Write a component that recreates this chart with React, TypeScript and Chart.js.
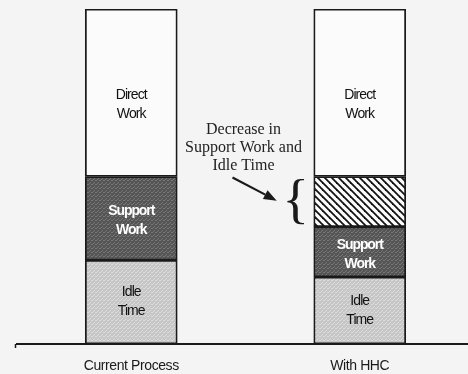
import React, { useEffect, useRef } from "react";
import { Chart, registerables } from "chart.js";

Chart.register(...registerables);

const categories = ["Current Process", "With HHC"];
const idleTime = [25, 20];
const supportWork = [25, 15];
const decrease = [0, 15];
const directWork = [50, 50];

const segmentLabels = [
  { lines: ["Idle", "Time"], color: "#111111", bold: false, dy: 0 },
  { lines: ["Support", "Work"], color: "#ffffff", bold: true, dy: 2.5 },
  null,
  { lines: ["Direct", "Work"], color: "#111111", bold: false, dy: 12 },
];
const annotationLines = ["Decrease in", "Support Work and", "Idle Time"];

function makeStipple(base: string, dot: string): CanvasPattern | string {
  const c = document.createElement("canvas");
  c.width = 4;
  c.height = 4;
  const g = c.getContext("2d");
  if (!g) return base;
  g.fillStyle = base;
  g.fillRect(0, 0, 4, 4);
  g.fillStyle = dot;
  g.fillRect(0, 0, 1, 1);
  g.fillRect(2, 2, 1, 1);
  g.fillRect(3, 0, 1, 1);
  g.fillRect(1, 3, 1, 1);
  const p = g.createPattern(c, "repeat");
  return p || base;
}

function makeHatch(): CanvasPattern | string {
  const s = 7;
  const c = document.createElement("canvas");
  c.width = s;
  c.height = s;
  const g = c.getContext("2d");
  if (!g) return "#fff";
  g.fillStyle = "#fbfbfb";
  g.fillRect(0, 0, s, s);
  g.strokeStyle = "#111";
  g.lineWidth = 1.8;
  for (let k = -1; k <= 1; k++) {
    g.beginPath();
    g.moveTo(k * s - 1, -1);
    g.lineTo(k * s + s + 1, s + 1);
    g.stroke();
  }
  const p = g.createPattern(c, "repeat");
  return p || "#fff";
}

const spacingPlugin = {
  id: "tickSpacing",
  beforeDraw(chart: any) {
    (chart.ctx as any).letterSpacing = "-0.4px";
  },
  afterDraw(chart: any) {
    (chart.ctx as any).letterSpacing = "0px";
  },
};

const labelPlugin = {
  id: "segmentLabels",
  afterDatasetsDraw(chart: any) {
    const ctx = chart.ctx as CanvasRenderingContext2D;
    ctx.save();
    chart.data.datasets.forEach((_ds: any, di: number) => {
      const info = segmentLabels[di];
      if (!info) return;
      const meta = chart.getDatasetMeta(di);
      meta.data.forEach((el: any) => {
        const top = Math.min(el.y, el.base);
        const bot = Math.max(el.y, el.base);
        if (bot - top < 2) return;
        const cy = (top + bot) / 2 + info.dy;
        ctx.font = (info.bold ? "bold " : "") + "14px 'Liberation Sans', Arial, sans-serif";
        (ctx as any).letterSpacing = info.bold ? "-1.1px" : "-0.9px";
        ctx.fillStyle = info.color;
        ctx.textAlign = "center";
        ctx.textBaseline = "middle";
        const lh = 19;
        info.lines.forEach((t, i) => {
          ctx.fillText(t, el.x, cy + (i - (info.lines.length - 1) / 2) * lh);
        });
      });
    });
    ctx.restore();
  },
};

const annotationPlugin = {
  id: "decreaseNote",
  afterDraw(chart: any) {
    const ctx = chart.ctx as CanvasRenderingContext2D;
    const meta = chart.getDatasetMeta(2);
    const el = meta.data[1];
    if (!el) return;
    const segTop = Math.min(el.y, el.base);
    const segBot = Math.max(el.y, el.base);
    const barLeft = el.x - el.width / 2;
    const xs = chart.scales.x;
    const midX = (xs.getPixelForValue(0) + xs.getPixelForValue(1)) / 2 - 2;
    ctx.save();
    (ctx as any).letterSpacing = "0px";
    ctx.font = "16px 'Liberation Serif', 'Times New Roman', serif";
    ctx.fillStyle = "#222";
    ctx.textAlign = "center";
    ctx.textBaseline = "middle";
    annotationLines.forEach((t, i) => {
      ctx.fillText(t, midX, segTop - 47 + i * 18);
    });
    // arrow
    const x0 = midX - 11;
    const y0 = segTop + 1;
    const x1 = barLeft - 37;
    const y1 = (segTop + segBot) / 2 - 1;
    const ang = Math.atan2(y1 - y0, x1 - x0);
    const headLen = 13;
    const headW = 5;
    const bx = x1 - headLen * Math.cos(ang);
    const by = y1 - headLen * Math.sin(ang);
    ctx.strokeStyle = "#1a1a1a";
    ctx.lineWidth = 2.2;
    ctx.beginPath();
    ctx.moveTo(x0, y0);
    ctx.lineTo(bx, by);
    ctx.stroke();
    ctx.fillStyle = "#1a1a1a";
    ctx.beginPath();
    ctx.moveTo(x1, y1);
    ctx.lineTo(bx + headW * Math.sin(ang), by - headW * Math.cos(ang));
    ctx.lineTo(bx - headW * Math.sin(ang), by + headW * Math.cos(ang));
    ctx.closePath();
    ctx.fill();
    // brace
    ctx.font = "56px 'Liberation Serif', 'Times New Roman', serif";
    ctx.textAlign = "center";
    ctx.textBaseline = "alphabetic";
    const m = ctx.measureText("{");
    const gh = m.actualBoundingBoxAscent + m.actualBoundingBoxDescent;
    const targetH = segBot - segTop - 3;
    const sy = targetH / gh;
    const cx = barLeft - 18;
    ctx.translate(cx, segTop + 1);
    ctx.scale(1, sy);
    ctx.fillStyle = "#1a1a1a";
    ctx.fillText("{", 0, m.actualBoundingBoxAscent);
    ctx.restore();
    // small tick at left end of axis
    const ys = chart.chartArea.bottom;
    ctx.save();
    ctx.strokeStyle = "#1a1a1a";
    ctx.lineWidth = 1.5;
    ctx.beginPath();
    ctx.moveTo(chart.chartArea.left - 1.5, ys);
    ctx.lineTo(chart.chartArea.left - 1.5, ys + 4);
    ctx.stroke();
    ctx.restore();
  },
};

export default function App() {
  const ref = useRef<HTMLCanvasElement | null>(null);
  useEffect(() => {
    if (!ref.current) return;
    const supportFill = makeStipple("#555555", "#787878");
    const idleFill = makeStipple("#c6c6c6", "#dcdcdc");
    const hatchFill = makeHatch();
    const common = {
      borderColor: "#1a1a1a",
      borderWidth: 1.8,
      borderSkipped: false,
      barThickness: 92,
    };
    const chart = new Chart(ref.current, {
      type: "bar",
      data: {
        labels: categories,
        datasets: [
          { label: "Idle Time", data: idleTime, backgroundColor: idleFill as any, ...common },
          { label: "Support Work", data: supportWork, backgroundColor: supportFill as any, ...common },
          { label: "Decrease", data: decrease, backgroundColor: hatchFill as any, ...common },
          { label: "Direct Work", data: directWork, backgroundColor: "#fbfbfb", ...common },
        ],
      },
      options: {
        animation: false,
        responsive: false,
        layout: { padding: { left: 17, right: 0, top: 9, bottom: 0 } },
        plugins: { legend: { display: false }, tooltip: { enabled: false } },
        scales: {
          x: {
            stacked: true,
            grid: { display: false, drawTicks: false, tickLength: 0 },
            border: { display: true, color: "#1a1a1a", width: 2 },
            ticks: {
              color: "#1a1a1a",
              padding: 14,
              font: { family: "'Liberation Sans', Arial, sans-serif", size: 14 },
            },
            afterFit(scale: any) {
              scale.height = 30;
            },
          },
          y: {
            stacked: true,
            display: false,
            min: 0,
            max: 100,
          },
        },
      },
      plugins: [spacingPlugin, labelPlugin, annotationPlugin],
    });
    return () => chart.destroy();
  }, []);
  return (
    <div
      style={{
        position: "fixed",
        left: 0,
        top: 0,
        width: 468,
        height: 374,
        background: "#f4f4f4",
        overflow: "hidden",
      }}
    >
      <canvas ref={ref} width={474} height={374} style={{ width: 474, height: 374, display: "block" }} />
    </div>
  );
}
